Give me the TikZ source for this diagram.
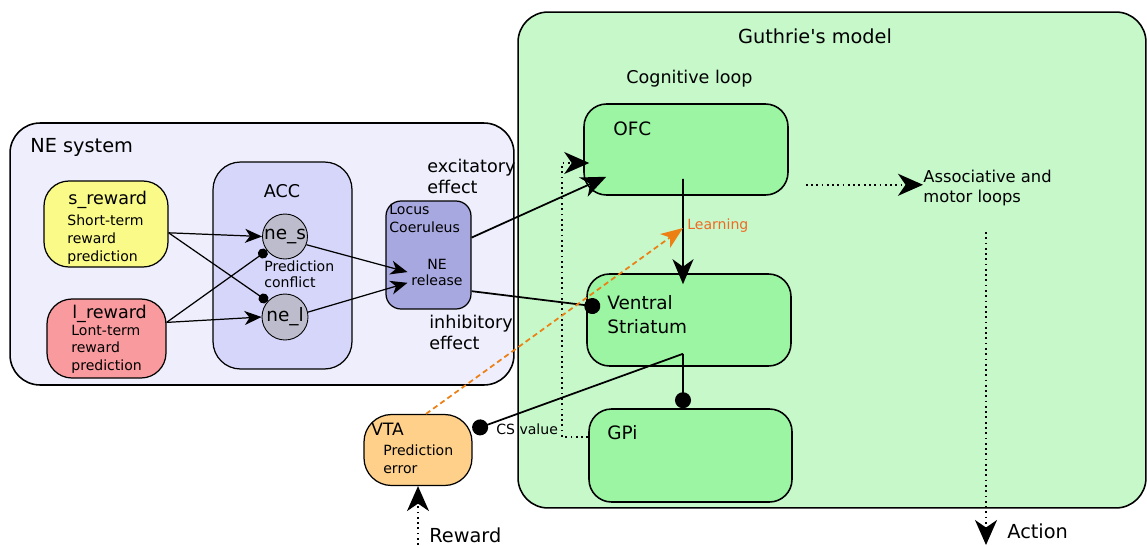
\documentclass[tikz,border=0pt]{standalone}
\usepackage{fontspec}
\setmainfont{DejaVu Sans}
\usetikzlibrary{arrows.meta}

\begin{document}
\begin{tikzpicture}[x=0.02cm, y=-0.02cm]

  % Define Colors
  \definecolor{nebg}{RGB}{238,238,252}
  \definecolor{gubg}{RGB}{198,248,202}
  \definecolor{sfill}{RGB}{250,250,136}
  \definecolor{lfill}{RGB}{248,154,158}
  \definecolor{accfill}{RGB}{214,214,250}
  \definecolor{nefill}{RGB}{188,188,204}
  \definecolor{lcfill}{RGB}{168,168,224}
  \definecolor{bgfill}{RGB}{155,245,162}
  \definecolor{vtafill}{RGB}{254,208,138}
  \definecolor{learnor}{RGB}{236,128,20}
  \definecolor{learntxt}{RGB}{240,105,35}

  % Node styles
  \tikzstyle{area}=[rectangle, draw, line width=0.9pt, rounded corners=0.6cm]
  \tikzstyle{rbox}=[rectangle, draw, line width=0.7pt, rounded corners=0.5cm]
  \tikzstyle{gbox}=[rectangle, draw, line width=0.9pt, rounded corners=0.45cm, fill=bgfill]
  \tikzstyle{nec}=[circle, draw, line width=0.5pt, fill=nefill, inner sep=0pt, font=\fontsize{10.5}{12}\selectfont]
  \tikzstyle{t11}=[anchor=base west, inner sep=0pt, font=\fontsize{11}{13}\selectfont]
  \tikzstyle{t10}=[anchor=base west, inner sep=0pt, align=left, font=\fontsize{10}{11.9}\selectfont]
  \tikzstyle{t8}=[anchor=base west, inner sep=0pt, align=left, font=\fontsize{8}{10.2}\selectfont]

  % Link styles
  \tikzstyle{exc}=[line width=0.7pt, -{Stealth[length=0.34cm, width=0.28cm, inset=0.1cm]}]
  \tikzstyle{inh}=[line width=0.7pt, -{Circle[length=0.2cm]}]
  \tikzstyle{exc_b}=[line width=1pt, -{Stealth[length=0.5cm, width=0.42cm, inset=0.15cm]}]
  \tikzstyle{inh_b}=[line width=1pt, -{Circle[length=0.32cm]}]
  \tikzstyle{dot_b}=[line width=1pt, dotted, -{Stealth[length=0.5cm, width=0.44cm, inset=0.15cm]}]
  \tikzstyle{learn_ln}=[line width=1pt, learnor, dash pattern=on 3pt off 2pt, -{Stealth[length=0.44cm, width=0.34cm, inset=0.12cm]}]

  \useasboundingbox (0,0) rectangle (1147,545);

  % Areas
  \node[area, fill=nebg, minimum width=10.08cm, minimum height=5.24cm] (ne_sys) at (262,254) {};
  \node[area, fill=gubg, minimum width=12.56cm, minimum height=9.92cm] (guthrie) at (832,260) {};

  % NE system nodes
  \node[rbox, fill=sfill, minimum width=2.48cm, minimum height=1.72cm] (s_rew) at (106,224) {};
  \node[rbox, fill=lfill, minimum width=2.38cm, minimum height=1.58cm] (l_rew) at (106.5,338.5) {};
  \node[rbox, fill=accfill, minimum width=2.78cm, minimum height=4.14cm, rounded corners=0.55cm] (acc) at (282.5,265.5) {};
  \node[nec, minimum size=0.9cm] (ne_s) at (285,236.5) {ne\_s};
  \node[nec, minimum size=0.92cm] (ne_l) at (285,317) {ne\_l};
  \node[rbox, fill=lcfill, minimum width=1.7cm, minimum height=2.16cm, rounded corners=0.3cm] (lc) at (428.5,255) {};

  % Guthrie's model nodes
  \node[gbox, minimum width=4.08cm, minimum height=1.82cm] (ofc) at (686,149.5) {};
  \node[gbox, minimum width=4.08cm, minimum height=1.84cm] (vs) at (689,320) {};
  \node[gbox, minimum width=4.06cm, minimum height=1.86cm] (gpi) at (690.5,455.5) {};
  \node[rbox, fill=vtafill, minimum width=2.16cm, minimum height=1.42cm, rounded corners=0.55cm] (vta) at (418,450) {};

  % Labels (multi-line ones sit on their last line)
  \node[t11] (ne_title) at (30,152) {NE system};
  \node[t11, anchor=base] (gu_title) at (815,43) {Guthrie\textquotesingle s model};
  \node[t10, anchor=base] (cog_lbl) at (689.5,83) {Cognitive loop};
  \node[t10, anchor=base] (acc_lbl) at (282,197) {ACC};
  \node[t10] (s_name) at (68,204) {s\_reward};
  \node[t8] (s_desc) at (67,261) {Short-term\\reward\\prediction};
  \node[t10] (l_name) at (72,318) {l\_reward};
  \node[t8, font=\fontsize{8}{9.9}\selectfont] (l_desc) at (71,370) {Lont-term\\reward\\prediction};
  \node[t8, font=\fontsize{8}{8.6}\selectfont] (conf_lbl) at (264,287) {Prediction\\conflict};
  \node[t8] (lc_lbl) at (389,232) {Locus\\Coeruleus};
  \node[t8, anchor=base, align=center, inner sep=2pt, font=\fontsize{8}{9}\selectfont] (ne_rel) at (437,285) {NE\\release};
  \node[t10] (exc_lbl) at (427,193) {excitatory\\effect};
  \node[t10] (inh_lbl) at (429,349) {inhibitory\\effect};
  \node[t10, font=\fontsize{10.5}{12}\selectfont] (ofc_lbl) at (613,135) {OFC};
  \node[t10, font=\fontsize{10.5}{13.6}\selectfont] (vs_lbl) at (607,333) {Ventral\\Striatum};
  \node[t10, font=\fontsize{10.5}{12}\selectfont] (gpi_lbl) at (607,439) {GPi};
  \node[t10, font=\fontsize{9.3}{11.3}\selectfont] (assoc) at (923,202) {Associative and\\motor loops};
  \node[t10, font=\fontsize{9.7}{11}\selectfont] (vta_lbl) at (371,435) {VTA};
  \node[t8, font=\fontsize{8}{10}\selectfont] (vta_desc) at (383,473) {Prediction\\error};
  \node[t8] (cs_lbl) at (496,434) {CS value};
  \node[t8, text=learntxt] (learn) at (687,229) {Learning};
  \node[t11] (act_lbl) at (1007,538) {Action};
  \node[t11] (rew_lbl) at (429,542) {Reward};

  % Free ends
  \coordinate (ofc_out) at ([xshift=0.34cm,yshift=0.22cm]ofc.south east);
  \coordinate (vs_out) at ([xshift=-0.12cm,yshift=0.26cm]vs.south);
  \coordinate (act_top) at (986,232);
  \coordinate (act_end) at (986,545);
  \coordinate (rew_start) at (418,545);

  % NE system links
  \draw[exc] (s_rew.-8) -- (ne_s.west);
  \draw[inh] (s_rew.-8) -- (ne_l.138);
  \draw[inh] (l_rew.15) -- (ne_s.218);
  \draw[exc] (l_rew.15) -- (ne_l.west);
  \draw[exc] (ne_s.-21) -- (ne_rel.west);
  \draw[exc] (ne_l.12) -- (ne_rel.200);

  % Locus Coeruleus links
  \draw[exc_b] (lc.22) -- ([xshift=0.46cm,yshift=0.38cm]ofc.south west);
  \draw[inh_b] (lc.-40) -- ([xshift=0.28cm,yshift=0.26cm]vs.west);

  % Basal ganglia links
  \draw[exc_b] ([xshift=-0.06cm,yshift=0.34cm]ofc.south) -- ([xshift=-0.12cm,yshift=-0.22cm]vs.north);
  \draw[inh_b] (vs_out) -- ([xshift=-0.15cm]gpi.north);
  \draw[inh_b] (vs_out) -- (vta.20);

  % Dotted links
  \draw[dot_b] (ofc_out) -- (ofc_out -| assoc.west);
  \draw[dot_b] (act_top) -- (act_end);
  \draw[dot_b] ([yshift=0.37cm]gpi.west) -- ++(-26,0) |- ([xshift=0.12cm,yshift=-0.27cm]ofc.west);
  \draw[dot_b] (rew_start) -- (vta.south);

  % Learning
  \draw[learn_ln, shorten >=0.1cm] ([xshift=0.16cm]vta.north) -- (learn.west);

\end{tikzpicture}
\end{document}
